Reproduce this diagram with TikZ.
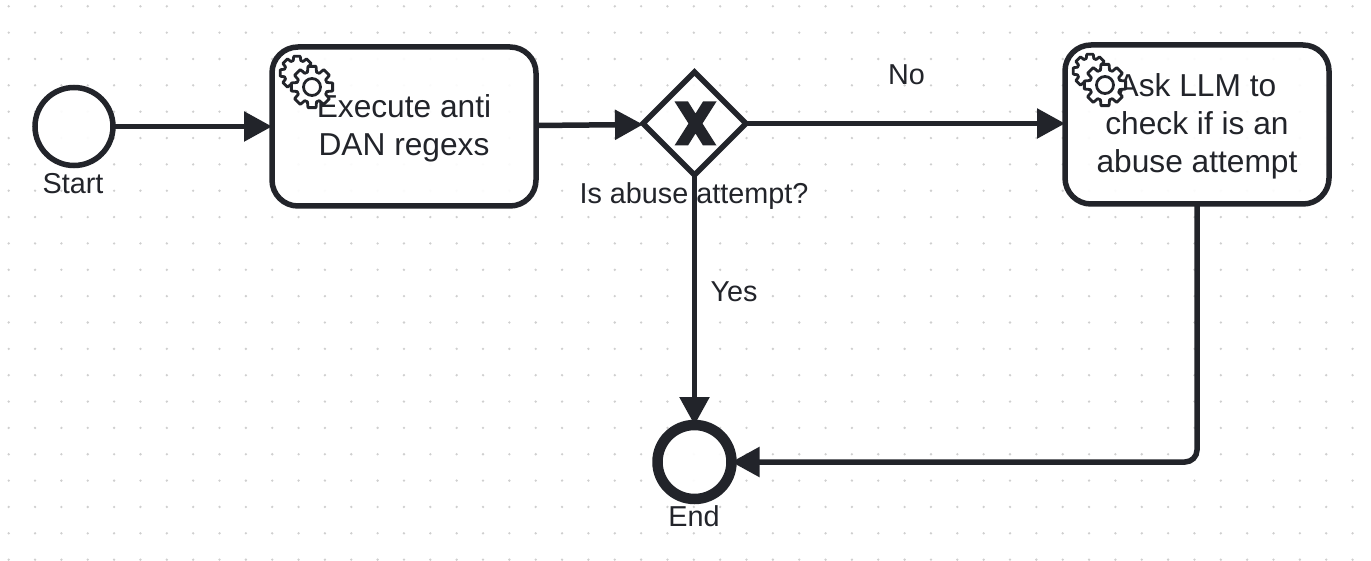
\documentclass[tikz,border=0pt]{standalone}
\usepackage{fontspec}
\setmainfont{Liberation Sans}
\usetikzlibrary{arrows.meta,shapes.geometric}
\definecolor{ink}{HTML}{22242A}
\definecolor{griddot}{HTML}{CFCFCF}
\pgfdeclarelayer{edges}
\pgfdeclarelayer{grid}
\pgfsetlayers{grid,edges,main}
\newcommand{\lbl}{\fontsize{28.8}{38}\selectfont}
\newcommand{\tasklbl}{\fontsize{31.7}{38}\selectfont}
\newcommand{\nudge}{\rule{0pt}{30.6pt}}
\tikzset{
  flow/.style={draw=ink,line width=5.5pt,-{Triangle[length=28pt,width=29pt,fill=ink]},rounded corners=12pt},
  taskbox/.style={draw=ink,line width=5.5pt,fill=white,fill opacity=.92,text opacity=1,rounded corners=26pt,
    minimum width=264pt,minimum height=159pt,inner sep=0pt,outer sep=0pt,text=ink,align=center,font=\tasklbl},
  startev/.style={circle,draw=ink,line width=5.5pt,fill=white,fill opacity=.92,minimum size=78pt,inner sep=0pt,outer sep=0pt},
  endev/.style={circle,draw=ink,line width=10.5pt,fill=white,fill opacity=.92,minimum size=74pt,inner sep=0pt,outer sep=0pt},
  gatebox/.style={diamond,aspect=1,draw=ink,line width=5.5pt,fill=white,fill opacity=.92,minimum width=103pt,minimum height=103pt,inner sep=0pt,outer sep=0pt},
  caption/.style={text=ink,font=\lbl,inner sep=0pt},
  gearline/.style={draw=ink,line width=2.8pt,line join=round},
}
% gear outline: #1 = rim radius, #2 = tooth radius
\newcommand{\gearpath}[2]{%
  (11:#2) \foreach \a in {0,45,...,315}{ -- (\a+11:#2) -- (\a+17:#1) -- (\a+28:#1) -- (\a+34:#2) } -- cycle}
\begin{document}
\begin{tikzpicture}[x=1pt,y=-1pt]
\useasboundingbox (0,0) rectangle (1371,561);
\begin{pgfonlayer}{grid}
\fill[white] (0,0) rectangle (1371,561);
\foreach \i in {0,...,51}{
  \foreach \j in {0,...,21}{
    \fill[griddot] ({8.7+26.35*\i},{6.3+26.35*\j}) circle[radius=1.3pt];
  }
}
\end{pgfonlayer}

\node[startev] (start) at (74,126.5) {};
\node[taskbox] (taskA) at (404,126.5) {\begin{tabular}{@{}c@{}}\nudge Execute anti\\DAN regexs\end{tabular}};
\node[gatebox] (gate) at (694.5,123.5) {};
\node[taskbox] (taskB) at (1197,124.5) {\begin{tabular}{@{}c@{}}\nudge Ask LLM to\\check if is an\\abuse attempt\end{tabular}};
\node[endev] (stop) at (694.5,462) {};

\coordinate (turn) at (taskB.south |- stop.east);
\begin{pgfonlayer}{edges}
\draw[flow] (start.east) -- (taskA.west);
\draw[flow] ([yshift=1pt]taskA.east) -- ([yshift=-1pt]gate.west);
\draw[flow] (gate.east) -- (taskB.west |- gate.east);
\draw[flow] (gate.south) -- (stop.north);
\draw[flow] (taskB.south) -- (turn) -- (stop.east);
\end{pgfonlayer}

% exclusive marker
\fill[ink,shift={(695.5,123.5)}] (-21,-22) -- (-7.5,-22) -- (0,-10) -- (7.5,-22) -- (21,-22) -- (7,0) -- (21,22) -- (7.5,22) -- (0,10) -- (-7.5,22) -- (-21,22) -- (-7,0) -- cycle;

% service task gears
\foreach \ox/\oy in {272/47,1065/45}{
  \begin{scope}[shift={(\ox,\oy)}]
    \draw[gearline,fill=white] [shift={(25,26)}] \gearpath{13}{17};
    \draw[gearline] (25,26) ++(-20:5.5) arc[start angle=-20,end angle=-200,radius=-5.5];
    \draw[gearline,fill=white] [shift={(40,40)}] \gearpath{15.5}{21};
    \draw[gearline,fill=white] (40,40) circle[radius=8.5];
  \end{scope}
}

\node[caption] (lstart) at (73,184) {Start};
\node[caption] (lgate) at (694,196) {Is abuse attempt?};
\node[caption] (lno) at (906.5,74.5) {No};
\node[caption] (lyes) at (734,292) {Yes};
\node[caption] (lend) at (694,516) {End};
\end{tikzpicture}
\end{document}
